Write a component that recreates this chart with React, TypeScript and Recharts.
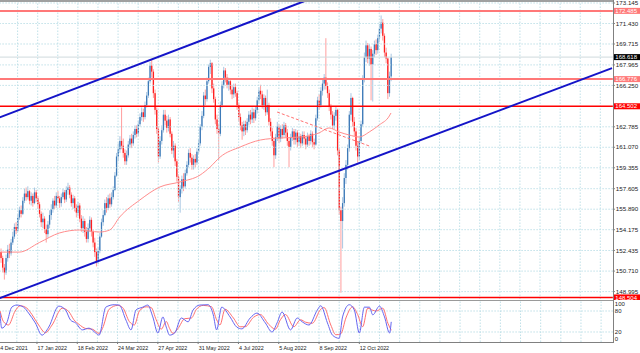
import React from 'react';
import { ComposedChart, Bar, Line, XAxis, YAxis, ReferenceLine } from 'recharts';

// ---------- DATA ----------
const firstOpen = 152.3;
const closes = [
  151.8, 151.0, 150.6, 151.8, 152.5, 152.2, 153.1, 153.6, 154.4, 154.1,
  155.2, 155.8, 155.5, 156.6, 157.2, 156.9, 157.4, 156.6, 157.0, 156.4,
  157.3, 156.8, 156.3, 155.5, 154.8, 155.1, 154.2, 153.8, 154.6, 155.4,
  155.9, 156.6, 156.2, 157.0, 156.8, 156.4, 156.9, 157.3, 156.7, 157.5,
  157.7, 157.1, 156.4, 156.8, 156.0, 155.6, 156.2, 155.1, 154.3, 154.9,
  154.0, 153.4, 154.3, 155.0, 154.0, 153.1, 152.3, 151.5, 152.4, 153.6,
  154.8, 155.4, 156.4, 156.0, 156.8, 156.3, 156.9, 157.5, 158.7, 160.3,
  160.9, 161.6, 161.2, 160.6, 159.9, 160.4, 161.3, 161.8, 161.4, 162.1,
  162.6, 162.2, 163.0, 163.6, 164.0, 163.6, 164.6, 165.4, 166.6, 167.9,
  167.4, 165.6, 164.2, 162.6, 160.3, 161.6, 162.5, 163.8, 163.3, 162.7,
  163.4, 162.2, 160.8, 161.2, 159.9, 158.6, 156.9, 157.6, 158.4, 157.8,
  158.9, 159.6, 160.6, 160.2, 159.6, 160.1, 159.8, 160.7, 161.4, 162.8,
  163.7, 165.4, 165.1, 166.6, 167.8, 168.1, 166.0, 165.1, 163.4, 162.6,
  162.2, 164.6, 166.3, 167.5, 166.9, 166.3, 166.6, 165.9, 165.5, 166.1,
  165.6, 164.6, 163.6, 162.9, 162.4, 163.0, 162.5, 163.2, 163.8, 163.4,
  164.0, 163.5, 164.2, 165.0, 165.8, 165.5, 164.6, 165.2, 164.0, 164.6,
  163.2, 162.4, 161.6, 160.4, 161.9, 162.8, 161.8, 162.6, 162.1, 162.9,
  162.3, 161.6, 161.1, 161.9, 162.4, 161.7, 162.3, 161.5, 162.0, 161.4,
  162.1, 161.8, 161.3, 162.0, 161.6, 162.2, 161.5, 161.3, 163.5, 165.0,
  164.6, 165.8, 166.4, 166.9, 166.2, 165.6, 164.5, 163.8, 162.9, 163.7,
  164.2, 160.8, 155.8, 154.9, 156.4, 158.5, 159.6, 161.0, 163.8, 165.2,
  163.2, 162.4, 161.2, 160.3, 161.6, 163.0, 166.8, 168.6, 169.6, 168.5,
  169.3, 168.0, 168.9, 169.7, 169.2, 170.2, 171.0, 171.5, 170.4, 169.0,
  168.5, 165.6, 167.0, 168.618,
];
const highs = [
  152.6, 152.0, 151.3, 152.1, 152.9, 153.0, 153.4, 154.0, 154.7, 154.8,
  155.5, 156.1, 156.2, 156.9, 157.6, 157.7, 157.8, 157.5, 157.3, 157.2,
  157.7, 157.5, 157.0, 156.5, 155.7, 155.6, 155.3, 154.6, 154.9, 155.8,
  156.3, 156.8, 157.0, 157.3, 157.4, 157.0, 157.2, 157.6, 157.5, 157.8,
  158.1, 157.9, 157.3, 157.1, 157.0, 156.3, 156.5, 156.4, 155.4, 155.3,
  155.1, 154.4, 154.7, 155.3, 155.2, 154.2, 153.5, 152.6, 152.7, 153.9,
  155.1, 155.8, 156.7, 156.9, 157.1, 157.2, 157.3, 157.8, 159.0, 160.6,
  161.4, 162.0, 164.4, 161.8, 160.9, 160.8, 161.6, 162.1, 162.2, 162.4,
  162.9, 162.9, 163.3, 163.9, 164.4, 164.3, 164.9, 165.7, 166.9, 168.2,
  168.4, 167.6, 165.9, 164.4, 162.8, 162.0, 162.9, 164.2, 164.2, 163.7,
  163.8, 163.6, 162.4, 161.6, 161.4, 160.1, 158.8, 157.9, 158.7, 158.9,
  159.2, 159.9, 160.9, 161.0, 160.5, 160.4, 160.5, 161.0, 161.7, 163.0,
  164.1, 165.7, 165.9, 166.9, 168.0, 168.4, 168.2, 166.4, 165.3, 163.8,
  163.0, 164.9, 166.6, 167.8, 167.7, 167.2, 166.9, 166.8, 166.3, 166.4,
  166.4, 165.8, 164.8, 163.9, 163.2, 163.3, 163.3, 163.5, 164.1, 164.2,
  164.4, 164.3, 164.5, 165.3, 166.1, 166.3, 165.8, 165.5, 165.4, 165.9,
  164.8, 163.5, 162.7, 161.9, 162.2, 163.2, 163.0, 162.9, 163.0, 163.2,
  163.1, 162.6, 161.9, 162.2, 162.7, 162.6, 162.6, 162.5, 162.3, 162.2,
  162.4, 162.4, 162.0, 162.3, 162.2, 162.5, 162.4, 161.8, 163.8, 165.3,
  165.5, 166.1, 166.7, 167.2, 170.2, 166.5, 165.9, 164.7, 164.1, 164.0,
  164.5, 164.3, 161.0, 156.1, 156.9, 158.9, 160.0, 161.3, 164.1, 165.6,
  165.3, 163.6, 162.7, 161.5, 161.9, 163.3, 167.1, 169.0, 170.0, 169.8,
  169.7, 169.5, 169.2, 170.0, 170.1, 170.5, 171.4, 172.1, 171.8, 170.6,
  169.4, 168.6, 167.4, 168.9,
];
const lows = [
  151.4, 150.6, 150.0, 150.4, 151.5, 151.8, 152.0, 152.9, 153.4, 153.8,
  154.0, 155.0, 155.2, 155.4, 156.4, 156.6, 156.7, 156.3, 156.2, 156.1,
  156.3, 156.5, 155.9, 155.2, 154.4, 154.3, 153.9, 153.1, 153.5, 154.3,
  155.0, 155.6, 155.9, 156.0, 156.4, 156.0, 156.1, 156.7, 156.4, 156.5,
  157.1, 156.8, 156.1, 155.9, 155.7, 155.2, 155.3, 154.8, 154.0, 153.9,
  153.6, 153.1, 153.1, 154.0, 153.6, 152.7, 151.9, 151.1, 151.3, 152.2,
  153.5, 154.5, 155.3, 155.6, 155.8, 156.0, 156.1, 156.7, 157.4, 158.6,
  159.9, 160.6, 160.9, 160.2, 159.6, 159.6, 160.2, 161.0, 161.0, 161.2,
  161.8, 161.9, 162.0, 162.8, 163.3, 163.2, 163.4, 164.4, 165.2, 166.4,
  166.9, 165.2, 163.8, 162.2, 159.8, 160.1, 161.3, 162.3, 162.9, 162.3,
  162.4, 161.9, 160.5, 160.2, 159.5, 158.2, 156.5, 155.6, 157.2, 157.4,
  157.6, 158.7, 159.4, 159.8, 159.2, 159.2, 159.4, 159.6, 160.5, 161.2,
  162.5, 163.5, 164.6, 164.9, 166.4, 167.2, 165.6, 164.8, 163.0, 162.2,
  160.0, 162.0, 164.4, 166.0, 166.5, 166.0, 165.8, 165.5, 165.1, 165.2,
  165.3, 164.2, 163.2, 162.5, 161.7, 162.0, 162.1, 162.3, 162.9, 163.0,
  163.1, 163.1, 163.3, 163.9, 164.7, 165.1, 164.3, 164.2, 163.7, 163.8,
  162.9, 162.0, 161.2, 159.4, 160.1, 161.6, 161.4, 161.5, 161.8, 161.9,
  161.9, 161.2, 159.4, 160.8, 161.6, 161.3, 161.3, 161.1, 161.2, 161.0,
  161.2, 161.3, 160.9, 161.1, 161.2, 161.3, 161.1, 160.9, 161.2, 163.3,
  164.2, 164.4, 165.4, 165.9, 165.9, 165.2, 164.1, 163.4, 162.6, 162.6,
  163.3, 160.4, 155.4, 148.9, 152.6, 156.1, 158.0, 159.2, 160.7, 163.3,
  162.8, 162.0, 160.8, 159.8, 160.0, 161.4, 162.8, 166.5, 168.2, 168.1,
  167.9, 165.0, 164.9, 168.6, 168.8, 168.9, 169.9, 170.6, 170.0, 168.6,
  168.1, 165.1, 165.3, 166.6,
];

// moving average (read at points along the curve)
const maIdx = [0, 11, 23, 35, 47, 59, 65, 71, 83, 95, 107, 119, 125, 131, 143, 155, 167, 179, 190, 196, 202, 208, 214, 220, 226, 232, 233];
const maVal = [152.3, 152.3, 153.1, 153.9, 154.15, 153.98, 154.15, 155.24, 156.66, 157.75, 158.17, 158.75, 159.42, 160.26, 161.1, 161.68, 161.85, 161.93, 162.27, 162.69, 162.35, 162.1, 161.93, 162.35, 162.94, 163.69, 163.94];

// stochastic %K (blue) and %D (red)
const kIdx = [0, 1, 4, 7, 10, 14, 17, 21, 25, 29, 35, 39, 42, 45, 49, 53, 57, 59, 63, 68, 71, 75, 78, 81, 85, 88, 91, 94, 97, 99, 101, 104, 108, 112, 115, 119, 124, 127, 129, 132, 137, 141, 144, 149, 153, 158, 162, 165, 168, 173, 177, 180, 184, 189, 191, 195, 198, 202, 204, 208, 211, 214, 217, 220, 222, 226, 229, 232, 233];
const kVal = [74, 31, 46, 91, 97, 91, 74, 46, 11, 34, 94, 83, 54, 46, 26, 31, 17, 11, 91, 98, 97, 54, 26, 83, 91, 97, 63, 17, 63, 34, 11, 17, 60, 49, 83, 97, 98, 69, 26, 91, 63, 34, 29, 60, 74, 46, 20, 46, 77, 26, 60, 49, 40, 83, 95, 46, 11, 2, 63, 98, 83, 17, 91, 91, 69, 94, 63, 17, 49];
const dIdx = [0, 2, 5, 9, 12, 16, 19, 23, 27, 31, 37, 41, 44, 47, 51, 55, 59, 61, 65, 70, 73, 77, 80, 83, 87, 90, 93, 96, 99, 101, 103, 106, 110, 114, 117, 121, 126, 129, 131, 134, 139, 143, 146, 151, 155, 160, 164, 167, 170, 175, 179, 182, 186, 191, 193, 197, 200, 203, 206, 210, 213, 216, 219, 222, 224, 228, 231, 233];
const dVal = [80, 50, 40, 80, 95, 88, 70, 40, 18, 40, 88, 78, 55, 42, 30, 28, 16, 30, 85, 96, 90, 50, 40, 80, 92, 90, 55, 28, 50, 30, 16, 30, 58, 60, 85, 96, 92, 55, 40, 85, 60, 35, 35, 62, 70, 42, 28, 55, 70, 35, 55, 48, 45, 85, 90, 40, 12, 15, 60, 92, 70, 35, 88, 82, 80, 88, 45, 25];

// horizontal levels, current price, trend lines
const levelValues = [172.485, 166.776, 164.502, 148.504];
const bidPrice = 168.618;
const upperChannel = [{ x: -3, y: 163.45 }, { x: 200, y: 174.3 }];
const lowerChannel = [{ x: -3, y: 148.33 }, { x: 365, y: 167.69 }];
const dashedTrend = [{ x: 165, y: 164.02 }, { x: 220, y: 161.18 }];

// axes
const priceTicks = [173.145, 171.43, 169.715, 167.965, 166.25, 162.785, 161.07, 159.355, 157.605, 155.89, 154.175, 152.435, 150.71, 148.995];
const oscTicks = [100, 80, 20, 0];
const dateTickIdx = [-2, 22, 46, 70, 94, 118, 142, 166, 190, 214];
const dateTickLabels = ['14 Dec 2021', '17 Jan 2022', '18 Feb 2022', '24 Mar 2022', '27 Apr 2022', '31 May 2022', '4 Jul 2022', '5 Aug 2022', '8 Sep 2022', '12 Oct 2022'];
const gridIdx = [-2, 10, 22, 34, 46, 58, 70, 82, 94, 106, 118, 130, 142, 154, 166, 178, 190, 202, 214, 226, 238, 250, 262, 274, 286, 298, 310, 322, 334, 346, 358];

// ---------- BUILD TABLE ----------
const FIRST = -3;
const LAST = 365;
const rows: any[] = [];
for (let i = FIRST; i <= LAST; i++) {
  const r: any = { i };
  if (i >= 0 && i < closes.length) {
    r.o = i === 0 ? firstOpen : closes[i - 1];
    r.c = closes[i];
    r.h = highs[i];
    r.l = lows[i];
    r.range = [lows[i], highs[i]];
  }
  rows.push(r);
}
maIdx.forEach((ix, k) => { rows[ix - FIRST].ma = maVal[k]; });
kIdx.forEach((ix, k) => { rows[ix - FIRST].k = kVal[k]; });
dIdx.forEach((ix, k) => { rows[ix - FIRST].d = dVal[k]; });

// ---------- STYLE ----------
const FONT = '"Liberation Sans", Arial, sans-serif';
const SHIFT = -4.86;
const CW = 640 - SHIFT;
const GRID = '#bfe0e8';
const LEVEL_COLORS = ['#ff7878', '#ff7878', '#ff0000', '#ff0000'];
const LEVEL_WIDTHS = [2, 2, 1.5, 1.5];

const Candle = (props: any) => {
  const { x, y, width, height, payload } = props;
  if (!payload || payload.h == null) return null;
  const { o, c, h, l } = payload;
  const top = Math.min(y, y + height);
  const hgt = Math.abs(height);
  const span = h - l || 1;
  const py = (v: number) => top + ((h - v) / span) * hgt;
  const cx = x + width / 2;
  const up = c >= o;
  const yo = py(o);
  const yc = py(c);
  const bt = Math.min(yo, yc);
  const bh = Math.max(Math.abs(yo - yc), 0.8);
  return (
    <g>
      <line x1={cx} x2={cx} y1={top} y2={top + hgt} stroke={up ? '#a9c6e2' : '#ff9e9e'} strokeWidth={1} />
      <rect x={cx - 0.65} y={bt} width={1.3} height={bh} fill={up ? '#3d7ab8' : '#ff1e1e'} />
    </g>
  );
};

const PriceTick = (props: any) => {
  const { x, y, payload } = props;
  const v = payload.value;
  const li = levelValues.findIndex((l) => Math.abs(l - v) < 1e-9);
  const isBid = Math.abs(v - bidPrice) < 1e-9;
  if (li >= 0 || isBid) {
    const bg = isBid ? '#000000' : LEVEL_COLORS[li];
    return (
      <g>
        <rect x={x + 0.5} y={y - 3} width={27} height={6} fill={bg} />
        <text x={x + 2.5} y={y + 2.1} fill="#ffffff" fontSize={6} fontFamily={FONT}>{v.toFixed(3)}</text>
      </g>
    );
  }
  return (
    <g>
      <line x1={x} x2={x + 2} y1={y} y2={y} stroke="#555" strokeWidth={0.8} />
      <text x={x + 3} y={y + 2.2} fill="#222" fontSize={6.2} fontFamily={FONT}>{v.toFixed(3)}</text>
    </g>
  );
};

const OscTick = (props: any) => {
  const { x, y, payload } = props;
  return (
    <text x={x + 2} y={y + 2.2} fill="#222" fontSize={6} fontFamily={FONT}>{String(payload.value)}</text>
  );
};

const DateTick = (props: any) => {
  const { x, y, payload } = props;
  const k = dateTickIdx.indexOf(payload.value);
  if (k < 0) return <g />;
  return (
    <g>
      <line x1={x} x2={x} y1={y} y2={y + 2} stroke="#555" strokeWidth={0.8} />
      <text x={x + 0.5} y={y + 7.6} fill="#222" fontSize={5.4} fontFamily={FONT}>{dateTickLabels[k]}</text>
    </g>
  );
};

const vGrid = () =>
  gridIdx.map((g) => (
    <ReferenceLine key={'vg' + g} x={g} stroke={GRID} strokeWidth={1} strokeDasharray="1.5 1.5" ifOverflow="hidden" />
  ));

export default function App() {
  return (
    <div style={{ position: 'absolute', left: 0, top: 0, width: 640, height: 353, overflow: 'hidden', background: '#fff' }}>
      <div style={{ position: 'absolute', left: SHIFT, top: 0 }}>
        <ComposedChart width={CW} height={300} data={rows} margin={{ top: 1, right: 0, bottom: 1, left: 0 }} barCategoryGap={0} barGap={0}>
          <XAxis dataKey="i" type="category" hide />
          <YAxis
            orientation="right"
            type="number"
            width={27}
            domain={[148.375, 173.312]}
            allowDataOverflow
            ticks={[...priceTicks, ...levelValues, bidPrice]}
            interval={0}
            tick={<PriceTick />}
            tickSize={0}
            tickMargin={0}
            axisLine={false}
            tickLine={false}
          />
          {vGrid()}
          {priceTicks.map((t) => (
            <ReferenceLine key={'hg' + t} y={t} stroke={GRID} strokeWidth={1} strokeDasharray="1.5 1.5" />
          ))}
          <ReferenceLine y={bidPrice} stroke="#cfdadd" strokeWidth={1} />
          <Line dataKey="ma" type="monotone" stroke="#ff8c8c" strokeWidth={1} dot={false} connectNulls isAnimationActive={false} />
          <Bar dataKey="range" shape={(p: any) => <Candle {...p} />} isAnimationActive={false} />
          {levelValues.map((v, k) => (
            <ReferenceLine key={'lv' + v} y={v} stroke={LEVEL_COLORS[k]} strokeWidth={LEVEL_WIDTHS[k]} />
          ))}
          <ReferenceLine segment={dashedTrend} stroke="#ff7070" strokeWidth={1} strokeDasharray="3 2" ifOverflow="hidden" />
          <ReferenceLine segment={upperChannel} stroke="#1414c8" strokeWidth={2} ifOverflow="hidden" />
          <ReferenceLine segment={lowerChannel} stroke="#1414c8" strokeWidth={2} ifOverflow="hidden" />
        </ComposedChart>
      </div>
      <div style={{ position: 'absolute', left: SHIFT, top: 301 }}>
        <ComposedChart width={CW} height={52} data={rows} margin={{ top: 0, right: 0, bottom: 0, left: 0 }}>
          <XAxis
            dataKey="i"
            type="category"
            height={11}
            ticks={dateTickIdx}
            interval={0}
            tick={<DateTick />}
            tickSize={0}
            tickMargin={0}
            axisLine={false}
            tickLine={false}
          />
          <YAxis
            orientation="right"
            type="number"
            width={27}
            domain={[-8.6, 108.6]}
            allowDataOverflow
            ticks={oscTicks}
            interval={0}
            tick={<OscTick />}
            tickSize={0}
            tickMargin={0}
            axisLine={false}
            tickLine={false}
          />
          {vGrid()}
          <ReferenceLine y={80} stroke={GRID} strokeWidth={1} strokeDasharray="1.5 1.5" />
          <ReferenceLine y={20} stroke={GRID} strokeWidth={1} strokeDasharray="1.5 1.5" />
          <Line dataKey="d" type="monotone" stroke="#ff6e6e" strokeWidth={1} dot={false} connectNulls isAnimationActive={false} />
          <Line dataKey="k" type="monotone" stroke="#6464f0" strokeWidth={1} dot={false} connectNulls isAnimationActive={false} />
        </ComposedChart>
      </div>
      {/* frame lines */}
      <div style={{ position: 'absolute', left: 0, top: 0, width: 613, height: 1.5, background: '#a0a0a0' }} />
      <div style={{ position: 'absolute', left: 613, top: 0, width: 1, height: 343, background: '#808080' }} />
      <div style={{ position: 'absolute', left: 0, top: 299.5, width: 613, height: 1.8, background: '#9a9a9a' }} />
      <div style={{ position: 'absolute', left: 0, top: 342, width: 613, height: 1, background: '#808080' }} />
    </div>
  );
}
